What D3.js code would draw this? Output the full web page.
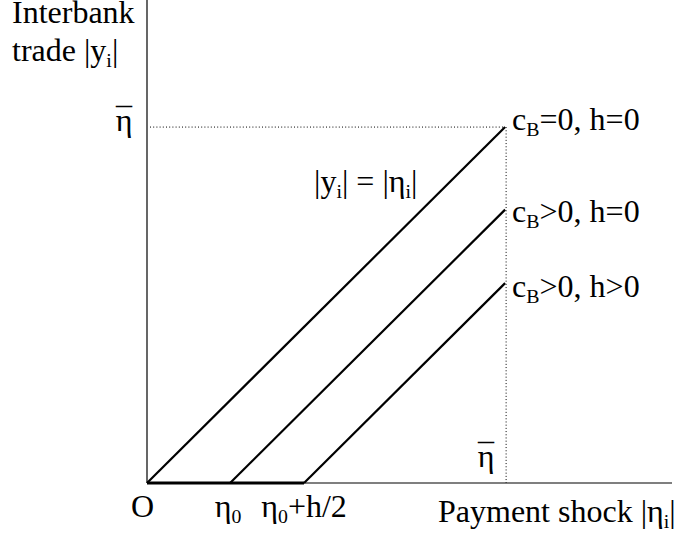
<!DOCTYPE html>
<html><head><meta charset="utf-8">
<script src="https://cdn.jsdelivr.net/npm/d3@7"></script>
<style>body{margin:0;background:#fff}text{font-family:"Liberation Serif","Times New Roman",serif;fill:#000}</style>
</head><body><svg id="c" width="685" height="535"></svg>
<script>
// values in units of eta-bar
const etaBar = 1;
const shifts = [0, 0.232, 0.4385];           // threshold where each line starts
const seriesLabels = ["c_B=0, h=0", "c_B>0, h=0", "c_B>0, h>0"];
const xMax = 1.466, yMax = 1.357;

// layout (pixels)
const labelDy = [3, 12, 14];

const svg = d3.select("#c");
const x = d3.scaleLinear().domain([0, xMax]).range([147, 672]);
const y = d3.scaleLinear().domain([0, yMax]).range([483, 0]);
const FS = 32;

function label(px, py, str, anchor){
  const t = svg.append("text").attr("x", px).attr("y", py).attr("font-size", FS).attr("text-anchor", anchor||"start");
  const re = /_([A-Za-z0-9]+)/g; let last = 0, m; const parts=[]; let prevSub=false;
  while((m = re.exec(str))){
    if(m.index>last){ parts.push({t:str.slice(last,m.index), after:prevSub}); prevSub=false; }
    parts.push({t:m[1], sub:true}); prevSub=true; last = re.lastIndex;
  }
  if(last<str.length) parts.push({t:str.slice(last), after:prevSub});
  parts.forEach(p=>{
    const s = t.append("tspan").text(p.t);
    if(p.sub){ s.attr("font-size", FS*0.62).attr("dy", 6); }
    else if(p.after){ s.attr("dy", -6); }
  });
  return t;
}
function etaBarLabel(px, py){
  label(px, py, "η", "middle");
  svg.append("text").attr("x", px).attr("y", py-1).attr("font-size", FS).attr("text-anchor","middle")
    .attr("textLength", 16).attr("lengthAdjust","spacingAndGlyphs").text("\u00AF");
}

// axes
svg.append("line").attr("x1", x(0)).attr("x2", x(0)).attr("y1", y(0)).attr("y2", y(yMax)).attr("stroke","#000").attr("stroke-width",1.2);
svg.append("line").attr("x1", x(0)).attr("x2", x(xMax)).attr("y1", y(0)).attr("y2", y(0)).attr("stroke","#000").attr("stroke-width",1.2);
// thick segment on x-axis where trade is zero
svg.append("line").attr("x1", x(0)).attr("x2", x(d3.max(shifts))).attr("y1", y(0)).attr("y2", y(0)).attr("stroke","#000").attr("stroke-width",3.2);

// dotted guides
svg.append("line").attr("x1", x(0)+3).attr("x2", x(etaBar)).attr("y1", y(etaBar)).attr("y2", y(etaBar))
  .attr("stroke","#000").attr("stroke-width",1).attr("stroke-dasharray","1,2.2");
svg.append("line").attr("x1", x(etaBar)+1).attr("x2", x(etaBar)+1).attr("y1", y(etaBar)).attr("y2", y(0))
  .attr("stroke","#000").attr("stroke-width",1).attr("stroke-dasharray","1,2.2");

// lines
const line = d3.line().x(d=>x(d[0])).y(d=>y(d[1]));
shifts.forEach((s,i)=>{
  svg.append("path").attr("d", line([[s,0],[etaBar, etaBar-s]])).attr("fill","none").attr("stroke","#000").attr("stroke-width",2.2);
  label(x(etaBar)+7, y(etaBar-s)+labelDy[i], seriesLabels[i]);
});

// texts
label(12, 23, "Interbank");
label(12, 61, "trade |y_i|");
label(314, 192, "|y_i| = |η_i|");
label(438, 522, "Payment shock |η_i|");
label(131, 517, "O");
label(x(shifts[1])-2, 517, "η_0", "middle");
label(x(shifts[2]), 517, "η_0+h/2", "middle");
etaBarLabel(124, y(etaBar)+4);
etaBarLabel(486, 467);
</script></body></html>
